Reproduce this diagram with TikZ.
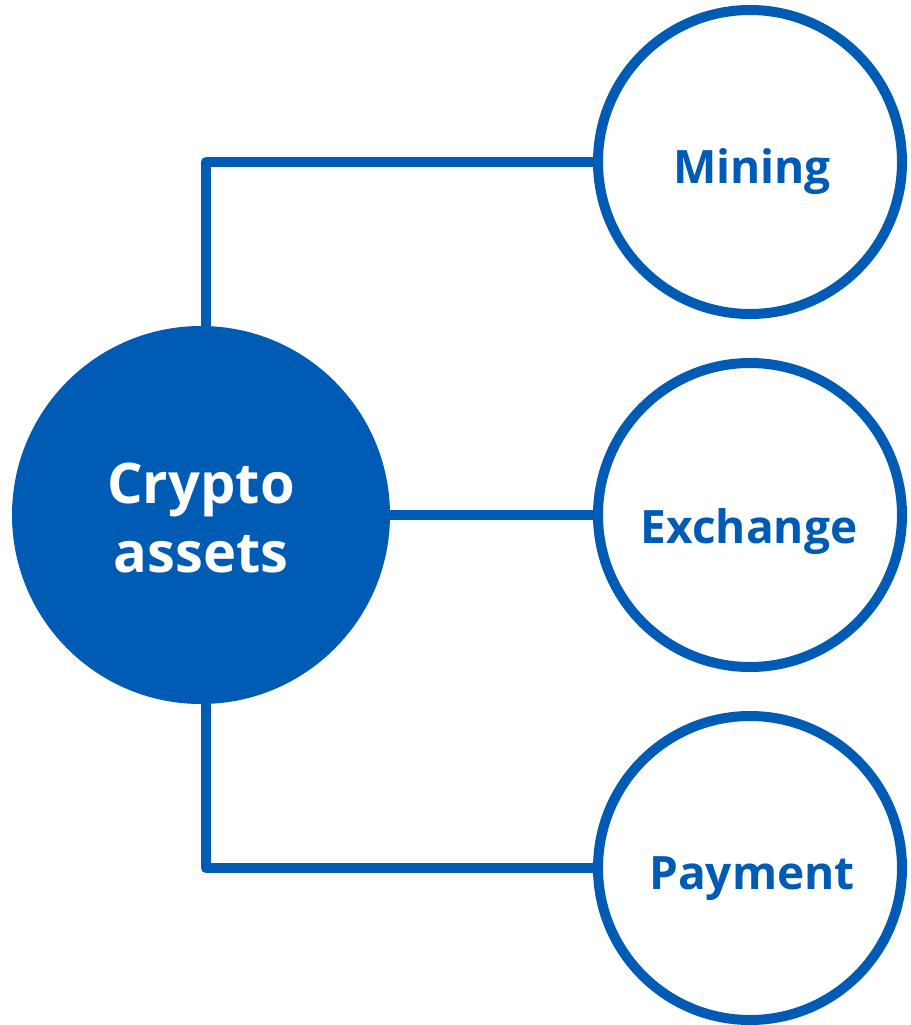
\documentclass[tikz,border=0pt]{standalone}
\usepackage{fontspec}
\setmainfont{Open Sans}
\definecolor{cblue}{RGB}{0,91,181}
\begin{document}
\begin{tikzpicture}[x=1pt,y=-1pt,
  sub/.style={circle,draw=cblue,line width=10pt,fill=white,minimum size=304pt,inner sep=0pt},
  hub/.style={circle,fill=cblue,minimum size=378pt,inner sep=0pt},
  subtext/.style={text=cblue,anchor=base,inner sep=0pt,font=\fontsize{46}{50}\selectfont\bfseries},
  hubtext/.style={text=white,align=center,font=\fontsize{56}{69}\selectfont\bfseries},
  link/.style={cblue,line width=10pt,line join=round}]
\useasboundingbox (0,0) rectangle (910,1025);
\node[hub] (main) at (201,515) {};
\node[sub] (mining) at (750,162) {};
\node[sub] (exchange) at (750,515) {};
\node[sub] (payment) at (750,868) {};
\draw[link] ([xshift=5pt]main.north) |- (mining.west);
\draw[link] (main.east) -- (exchange.west);
\draw[link] ([xshift=5pt]main.south) |- (payment.west);
\node[hubtext] (maintext) at (201,518) {Crypto\\assets};
\node[subtext] (miningtext) at (752,183) {Mining};
\node[subtext] (exchangetext) at (749,543) {Exchange};
\node[subtext] (paymenttext) at (752,889) {Payment};
\end{tikzpicture}
\end{document}
